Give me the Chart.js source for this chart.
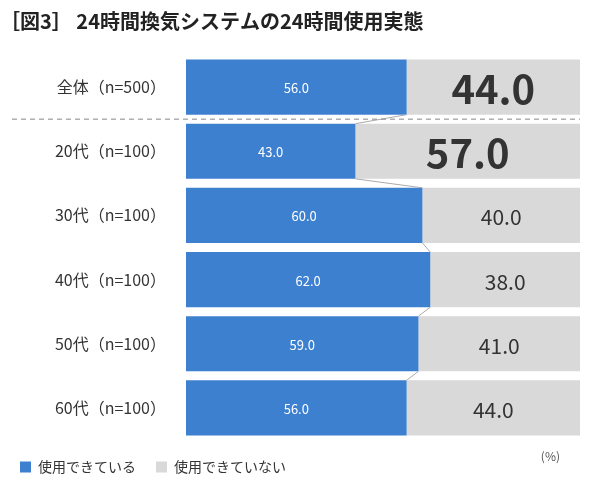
<!DOCTYPE html>
<html><head><meta charset="utf-8">
<script src="https://cdn.jsdelivr.net/npm/chart.js@4"></script>
<style>body{margin:0;background:#fff}#w{width:600px;height:490px}</style>
</head><body><div id="w"><canvas id="c"></canvas></div>
<script>
const categories=["全体（n=500）","20代（n=100）","30代（n=100）","40代（n=100）","50代（n=100）","60代（n=100）"];
const used=[56.0,43.0,60.0,62.0,59.0,56.0];
const notUsed=[44.0,57.0,40.0,38.0,41.0,44.0];
const seriesNames=["使用できている","使用できていない"];
const F="'Noto Sans CJK JP','Noto Sans',sans-serif";
const deco={id:'deco',afterDatasetsDraw(ch){
 const c=ch.ctx,x=ch.scales.x,y=ch.scales.y,a=ch.chartArea;
 const m0=ch.getDatasetMeta(0),m1=ch.getDatasetMeta(1);
 c.save();
 c.strokeStyle='#aaa';c.lineWidth=1;
 for(let i=0;i<used.length-1;i++){const b=m0.data[i],n=m0.data[i+1];
  c.beginPath();c.moveTo(b.x,b.y+b.height/2);c.lineTo(n.x,n.y-n.height/2);c.stroke();}
 const ys=(y.getPixelForValue(0)+y.getPixelForValue(1))/2;
 c.setLineDash([5,4]);c.strokeStyle='#888';c.beginPath();c.moveTo(12,ys);c.lineTo(a.right,ys);c.stroke();c.setLineDash([]);
 c.textAlign='center';c.textBaseline='middle';
 m0.data.forEach((b,i)=>{c.fillStyle='#fff';c.font='13px '+F;c.fillText(used[i].toFixed(1),(b.base+b.x)/2,b.y+1);});
 m1.data.forEach((b,i)=>{c.fillStyle='#333';const big=i<2;c.font=(big?'bold 40px ':'21px ')+F;c.fillText(notUsed[i].toFixed(1),(b.base+b.x)/2,b.y+2);});
 c.font='12px '+F;c.fillStyle='#555';c.textAlign='right';c.fillText('(%)',a.right-20,a.bottom+16);
 c.restore();}};
new Chart(document.getElementById('c'),{type:'bar',
 data:{labels:categories,datasets:[
  {label:seriesNames[0],data:used,backgroundColor:'#3d80d0',barPercentage:0.86,categoryPercentage:1},
  {label:seriesNames[1],data:notUsed,backgroundColor:'#d9d9d9',barPercentage:0.86,categoryPercentage:1}]},
 options:{indexAxis:'y',responsive:true,maintainAspectRatio:false,animation:false,
  layout:{padding:{left:0,right:20,top:0,bottom:6}},
  scales:{x:{stacked:true,min:0,max:100,display:false},
   y:{stacked:true,grid:{display:false},border:{display:false},
    ticks:{font:{size:16,family:F},color:'#333',padding:12},
    afterFit(s){s.width=186;}}},
  plugins:{tooltip:{enabled:false},
   title:{display:true,text:'［図3］ 24時間換気システムの24時間使用実態',align:'start',font:{size:20,weight:'bold',family:F},color:'#222',padding:{top:9,bottom:22}},
   legend:{position:'bottom',align:'start',labels:{boxWidth:11,boxHeight:11,font:{size:14,family:F},color:'#333',padding:20}}}},
 plugins:[deco]});
</script></body></html>
